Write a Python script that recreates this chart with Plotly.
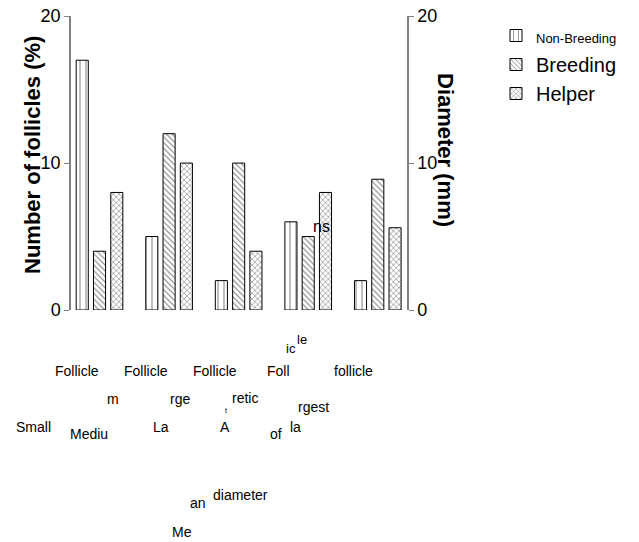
import plotly.graph_objects as go

# ---- data ----
categories = [0, 1, 2, 3, 4]  # Small, Medium, Large, Atretic, Mean diameter of largest follicle
non_breeding = [17, 5, 2, 6, 2]
breeding = [4, 12, 10, 5, 8.9]
helper = [8, 10, 4, 8, 5.6]
y_ticks = [0, 10, 20]
y_tick_labels = ["0", "10", "20"]

# garbled category label fragments as they appear in the reference
label_fragments = ["ic", "le", "Follicle", "Follicle", "Follicle", "Foll", "follicle",
                   "m", "rge", "retic", "t", "rgest",
                   "Small", "Mediu", "La", "A", "of", "la",
                   "an", "diameter", "Me"]

# ---- layout geometry (pixels) ----
W, H = 639, 542
L, R, T, B = 71, 407, 16, 310
pw, ph = R - L, B - T
fragment_px = [(291, 348, 13), (302, 339, 13), (77, 371, 14), (146, 371, 14), (215, 371, 14),
               (278, 371, 14), (353, 371, 14),
               (113, 399, 14), (180, 399, 14), (245, 398, 14), (226, 410, 7), (313, 407, 14),
               (33, 427, 14), (89, 434, 14), (161, 427, 14), (225, 427, 14), (276, 434, 14),
               (295, 427, 14),
               (198, 503, 14), (240, 495, 14), (182, 532, 14)]

def px2paper(x, y):
    return (x - L) / pw, (B - y) / ph

FONT = "Liberation Sans, Arial, sans-serif"

fig = go.Figure()
series = [("<span style='font-size:13px'>Non-Breeding</span>", non_breeding, "|", 6, 0.17),
          ("Breeding", breeding, "\\", 4, 0.28),
          ("Helper", helper, "x", 4, 0.28)]
for name, vals, shp, sz, sol in series:
    fig.add_trace(go.Bar(
        x=categories, y=vals, name=name,
        marker=dict(color="white", line=dict(color="black", width=1),
                    pattern=dict(shape=shp, size=sz, solidity=sol,
                                 fgcolor="black", bgcolor="white", fillmode="overlay")),
    ))
# invisible trace so the right-hand (diameter) axis is drawn
fig.add_trace(go.Scatter(x=categories, y=helper, yaxis="y2", mode="markers",
                         marker=dict(opacity=0), showlegend=False, hoverinfo="skip"))

annotations = []
for txt, (x, y, s) in zip(label_fragments, fragment_px):
    xp, yp = px2paper(x, y)
    annotations.append(dict(text=txt, x=xp, y=yp, xref="paper", yref="paper",
                            xanchor="center", yanchor="middle", showarrow=False,
                            font=dict(size=s, color="black", family=FONT)))

# ns annotation
xp, yp = px2paper(321, 226)
annotations.append(dict(text="ns", x=xp, y=yp, xref="paper", yref="paper",
                        xanchor="center", yanchor="middle",
                        showarrow=False, font=dict(size=16, color="black", family=FONT)))
# axis titles
xp, yp = px2paper(32, 155)
annotations.append(dict(text="<b>Number of follicles (%)</b>", x=xp, y=yp, xref="paper", yref="paper",
                        xanchor="center", yanchor="middle",
                        textangle=-90, showarrow=False, font=dict(size=22, color="black", family=FONT)))
xp, yp = px2paper(445, 150)
annotations.append(dict(text="<b>Diameter (mm)</b>", x=xp, y=yp, xref="paper", yref="paper",
                        xanchor="center", yanchor="middle",
                        textangle=90, showarrow=False, font=dict(size=22, color="black", family=FONT)))

lx, ly = px2paper(496, 16)
axis_common = dict(range=[0, 20.01], tickvals=y_ticks, ticktext=y_tick_labels, showgrid=False,
                   zeroline=False, showline=True, linecolor="#808080", linewidth=1.5,
                   ticks="outside", ticklen=5, tickcolor="#808080",
                   ticklabeloverflow="allow", tickfont=dict(size=18, family=FONT))
fig.update_layout(
    width=W, height=H,
    margin=dict(l=L, r=W - R, t=T, b=H - B, pad=0, autoexpand=False),
    paper_bgcolor="white", plot_bgcolor="white",
    barmode="group", bargap=0.255, bargroupgap=0.3,
    font=dict(family=FONT, color="black"),
    xaxis=dict(range=[-0.41, 4.42], showticklabels=False, showline=False,
               showgrid=False, zeroline=False, ticks=""),
    yaxis=dict(**axis_common),
    yaxis2=dict(**axis_common, overlaying="y", side="right", anchor="x"),
    legend=dict(x=lx, y=ly, xanchor="left", yanchor="top", xref="paper", yref="paper",
                font=dict(size=20, family=FONT), bgcolor="rgba(0,0,0,0)",
                tracegroupgap=2, itemwidth=30),
    annotations=annotations,
    showlegend=True,
)
fig.write_html("out.html", config={"displayModeBar": False},
               post_script="document.body.style.margin='0';")
